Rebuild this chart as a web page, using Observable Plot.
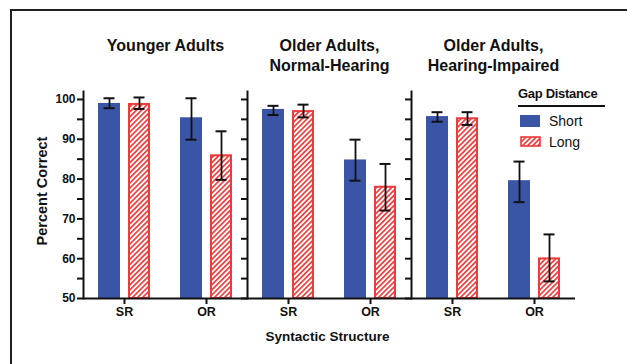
<!DOCTYPE html>
<html><head><meta charset="utf-8">
<script src="https://cdn.jsdelivr.net/npm/d3@7"></script>
<script src="https://cdn.jsdelivr.net/npm/@observablehq/plot@0.6"></script>
<style>
html,body{margin:0;padding:0;background:#fff;overflow:hidden;}
#wrap{position:relative;width:627px;height:364px;font-family:"Liberation Sans",Arial,Helvetica,sans-serif;}
#border{position:absolute;left:10px;top:9px;width:700px;height:400px;border-left:2.5px solid #231f20;border-top:2.5px solid #231f20;}
#chart{position:absolute;left:0;top:0;}
#legend{position:absolute;left:0;top:0;pointer-events:none;}
</style></head><body>
<div id="wrap"><div id="border"></div><div id="chart"></div>
<svg id="legend" width="627" height="364" font-family="Liberation Sans, Arial, Helvetica, sans-serif">
  <defs>
    <pattern id="hatchLegend" patternUnits="userSpaceOnUse" width="3.6" height="3.6" patternTransform="rotate(45)">
      <rect width="3.6" height="3.6" fill="#fff"></rect>
      <line x1="0.9" y1="0" x2="0.9" y2="3.6" stroke="#ee3a3a" stroke-width="1.7"></line>
    </pattern>
  </defs>
  <text x="518" y="98" font-size="13" font-weight="bold" letter-spacing="-0.3" fill="#111">Gap Distance</text>
  <line x1="518" x2="605" y1="106" y2="106" stroke="#111" stroke-width="2"></line>
  <rect x="520" y="115" width="20" height="12" fill="#3b55a6"></rect>
  <text x="549" y="126" font-size="14" fill="#111">Short</text>
  <rect x="521" y="137" width="19" height="9" fill="url(#hatchLegend)" stroke="#ee3a3a" stroke-width="1.6"></rect>
  <text x="549" y="147" font-size="14" fill="#111">Long</text>
</svg>
</div>
<script>
// ---- data ----
const panels = ["Younger Adults", "Older Adults, Normal-Hearing", "Older Adults, Hearing-Impaired"];
const panelTitles = ["Younger Adults", "Older Adults,\nNormal-Hearing", "Older Adults,\nHearing-Impaired"];
const structures = ["SR", "OR"];
const distances = ["Short", "Long"];
// order: Younger SR, Younger OR, OlderNH SR, OlderNH OR, OlderHI SR, OlderHI OR
const shortMean = [99.0, 95.4, 97.5, 84.8, 95.7, 79.6];
const shortLow  = [97.8, 89.9, 96.1, 79.6, 94.4, 74.2];
const shortHigh = [100.3, 100.3, 98.4, 89.9, 96.8, 84.4];
const longMean  = [99.0, 86.1, 97.2, 78.2, 95.4, 60.2];
const longLow   = [97.6, 79.8, 95.5, 72.1, 93.6, 54.3];
const longHigh  = [100.5, 92.0, 98.7, 83.8, 96.8, 66.1];
const yTicks = [50, 55, 60, 65, 70, 75, 80, 85, 90, 95, 100];
const yBase = 50;
const yTop = 102;
const yLabel = "Percent Correct";
const xLabel = "Syntactic Structure";

const BLUE = "#3b55a6", RED = "#ee3a3a", INK = "#111";

const slots = panels.flatMap(p => structures.map(s => p + "|" + s));
const rows = [];
panels.forEach((p, pi) => structures.forEach((s, si) => {
  const k = pi * 2 + si, slot = p + "|" + s;
  rows.push({slot, dist: distances[0], mean: shortMean[k], low: shortLow[k], high: shortHigh[k]});
  rows.push({slot, dist: distances[1], mean: longMean[k], low: longLow[k], high: longHigh[k]});
}));
const dividerSlots = panels.map(p => p + "|" + structures[0]);
const titleRows = panels.map((p, i) => ({slot: dividerSlots[i], title: panelTitles[i]}));
const font = {fontWeight: "bold", fill: INK};

const chart = Plot.plot({
  width: 627, height: 364,
  marginLeft: 82, marginRight: 51, marginTop: 91, marginBottom: 66,
  style: {fontFamily: "Liberation Sans, Arial, Helvetica, sans-serif", color: INK, background: "transparent"},
  fx: {domain: slots, padding: 0, axis: null},
  x: {domain: distances, paddingInner: 0.274, paddingOuter: 0.464, axis: null},
  y: {domain: [yBase, yTop], axis: null},
  marks: [
    Plot.barY(rows.filter(d => d.dist === distances[0]), {fx: "slot", x: "dist", y1: yBase, y2: "mean", fill: BLUE}),
    Plot.barY(rows.filter(d => d.dist === distances[1]), {fx: "slot", x: "dist", y1: yBase, y2: "mean", fill: "url(#hatch)", stroke: RED, strokeWidth: 2, insetLeft: 1, insetRight: 1, insetTop: 1}),
    Plot.ruleY([yBase], {stroke: INK, strokeWidth: 2}),
    Plot.ruleX(rows, {fx: "slot", x: "dist", y1: "low", y2: "high", stroke: INK, strokeWidth: 1.8}),
    Plot.tickY(rows, {fx: "slot", x: "dist", y: "high", stroke: INK, strokeWidth: 2, insetLeft: 5.5, insetRight: 5.5}),
    Plot.tickY(rows, {fx: "slot", x: "dist", y: "low", stroke: INK, strokeWidth: 2, insetLeft: 5.5, insetRight: 5.5}),
    ...dividerSlots.map(s => Plot.frame({anchor: "left", fx: () => s, stroke: INK, strokeWidth: 2})),
    ...dividerSlots.map((s, i) => Plot.axisY(yTicks, {
      fx: () => s, facetAnchor: null, anchor: "left", tickSize: 6, tickPadding: 2, strokeWidth: 2,
      tickFormat: i === 0 ? (d => d % 10 === 0 ? String(d) : "") : () => "",
      fontSize: 12, fontWeight: "bold", label: null
    })),
    Plot.axisFx({anchor: "bottom", tickSize: 6, tickPadding: 3, strokeWidth: 2, tickFormat: s => s.split("|")[1], fontSize: 12.5, fontWeight: "bold", label: null}),
    Plot.text(titleRows, {fx: "slot", text: "title", frameAnchor: "top-right", textAnchor: "middle", lineAnchor: "top", dy: -55, fontSize: 16, lineHeight: 1.25, ...font}),
    Plot.text([xLabel], {fx: () => slots[2], text: d => d, frameAnchor: "bottom-right", textAnchor: "middle", lineAnchor: "bottom", dy: 42, dx: -2, fontSize: 13.5, ...font}),
    Plot.text([yLabel], {fx: () => slots[0], text: d => d, frameAnchor: "left", textAnchor: "middle", rotate: -90, dx: -41, dy: -4, fontSize: 14.5, ...font})
  ]
});

d3.select(chart).insert("defs", ":first-child").html(
  `<pattern id="hatch" patternUnits="userSpaceOnUse" width="3.6" height="3.6" patternTransform="rotate(45)">
     <rect width="3.6" height="3.6" fill="#fff"></rect>
     <line x1="0.9" y1="0" x2="0.9" y2="3.6" stroke="${RED}" stroke-width="1.7"></line>
   </pattern>`);
document.getElementById("chart").appendChild(chart);
</script>
</body></html>
